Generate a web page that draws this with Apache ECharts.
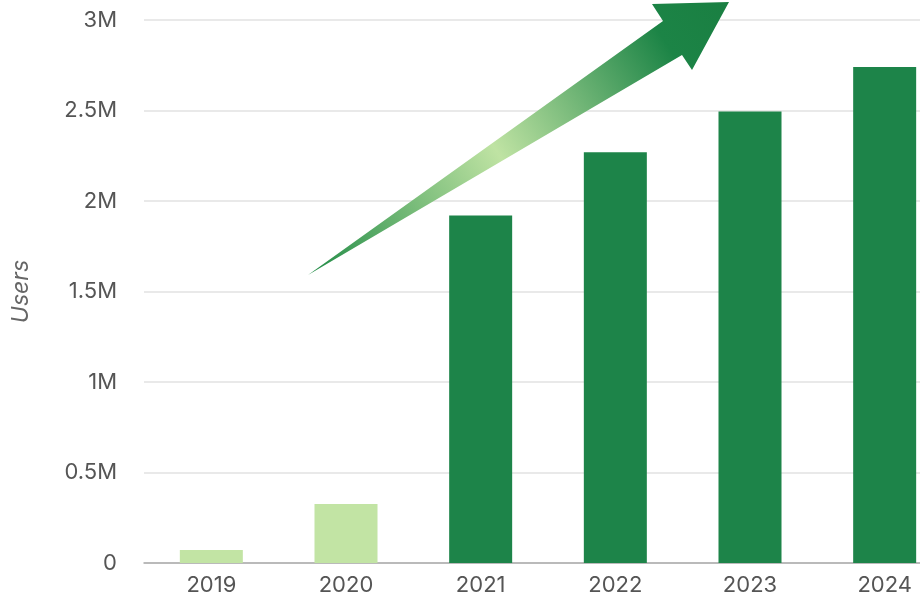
<!DOCTYPE html>
<html>
<head>
<meta charset="utf-8">
<script src="https://cdn.jsdelivr.net/npm/echarts@6/dist/echarts.min.js"></script>
<style>html,body{margin:0;padding:0;background:#fff}#c{width:920px;height:600px}</style>
</head>
<body>
<div id="c"></div>
<script>
const categories = ['2019', '2020', '2021', '2022', '2023', '2024'];
const users = [72000, 326000, 1920000, 2270000, 2495000, 2740000];
const lightYears = ['2019', '2020'];
const yTicks = { min: 0, max: 3000000, interval: 500000 };

const chart = echarts.init(document.getElementById('c'));
const font = 'Inter, "Open Sans", sans-serif';
chart.setOption({
  animation: false,
  grid: { left: 144, right: -32, top: 20, bottom: 37, outerBoundsMode: 'none', containLabel: false },
  xAxis: {
    type: 'category',
    data: categories,
    axisTick: { show: false },
    axisLine: { lineStyle: { color: '#aaaaaa', width: 1.5 } },
    axisLabel: { color: '#555', fontSize: 22, fontFamily: font, margin: 11 }
  },
  yAxis: {
    type: 'value',
    min: yTicks.min, max: yTicks.max, interval: yTicks.interval,
    name: 'Users',
    nameLocation: 'middle',
    nameGap: 111,
    nameTextStyle: { color: '#666', fontSize: 23, fontStyle: 'italic', fontFamily: font },
    axisLine: { show: false },
    axisTick: { show: false },
    splitLine: { lineStyle: { color: '#e2e2e2', width: 1.5 } },
    axisLabel: {
      color: '#555', fontSize: 22, fontFamily: font, margin: 27,
      formatter: v => v === 0 ? '0' : (v / 1000000) + 'M'
    }
  },
  series: [{
    type: 'bar',
    barWidth: 63,
    data: users.map((v, i) => ({
      value: v,
      itemStyle: { color: lightYears.includes(categories[i]) ? '#c2e4a4' : '#1d8449' }
    }))
  }],
  graphic: [{
    type: 'polygon',
    z: 10,
    shape: {
      points: [[308, 275], [663, 21], [652, 4], [729, 2], [692, 70], [682, 55]]
    },
    style: {
      fill: {
        type: 'linear', x: 0, y: 1, x2: 1, y2: 0,
        colorStops: [
          { offset: 0, color: '#1f8a45' },
          { offset: 0.45, color: '#bfe3a3' },
          { offset: 0.85, color: '#1c8446' },
          { offset: 1, color: '#1a7f42' }
        ]
      }
    }
  }]
});
</script>
</body>
</html>
